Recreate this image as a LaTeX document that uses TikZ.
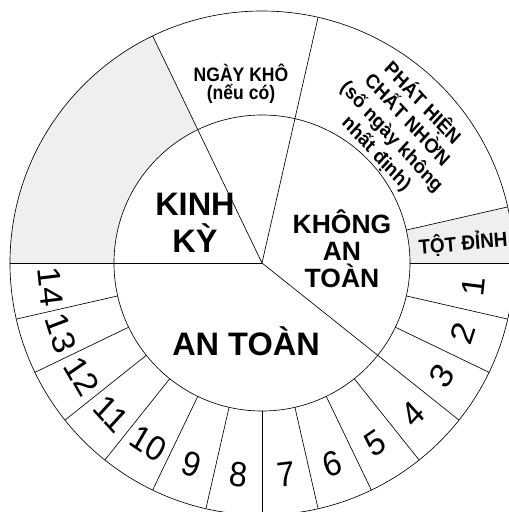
\documentclass[tikz,border=0pt]{standalone}
\usepackage{fontspec}
\setmainfont{Liberation Sans}
\definecolor{cellgrey}{HTML}{EFEFEF}
\tikzset{
  ring/.style={draw=black, line width=0.65pt},
  num/.style={font=\fontsize{35}{35}\selectfont, inner sep=0pt, xscale=0.92},
  big/.style={font=\fontsize{32.5}{37}\selectfont\bfseries, align=center, inner sep=0pt},
  mid/.style={font=\fontsize{26.5}{27}\selectfont\bfseries, align=center, inner sep=0pt},
  small/.style={font=\fontsize{19.5}{18.5}\selectfont\bfseries, align=center, inner sep=0pt, xscale=0.9},
  slant/.style={font=\fontsize{20}{23.5}\selectfont\bfseries, align=center, inner sep=0pt, xscale=0.92},
  tip/.style={font=\fontsize{20.5}{20}\selectfont\bfseries, inner sep=0pt, xscale=0.92},
}
\begin{document}
\begin{tikzpicture}[x=1pt,y=1pt]
\def\Ri{148}\def\Ro{252}\def\st{12.857142}
\useasboundingbox (-262,-249) rectangle (247,263);
\begin{scope}
\clip (-262,-249) rectangle (247,263);
% grey cells
\fill[cellgrey] (115.714:\Ri) arc[start angle=115.714, end angle=180, radius=\Ri]
   -- (180:\Ro) arc[start angle=180, end angle=115.714, radius=\Ro] -- cycle;
\fill[cellgrey] (0:\Ri) arc[start angle=0, end angle=12.857, radius=\Ri]
   -- (12.857:\Ro) arc[start angle=12.857, end angle=0, radius=\Ro] -- cycle;
% circles
\coordinate (c) at (0,0);
\draw[ring] (c) circle[radius=\Ri];
\draw[ring] (c) circle[radius=\Ro];
% lines from centre
\foreach \a in {180,115.714,77.143,-38.571} \draw[ring] (c) -- (\a:\Ro);
% day dividers
\foreach \i in {-1,0,1,2,4,5,6,7,8,9,10,11,12,13} \draw[ring] (-\i*\st:\Ri) -- (-\i*\st:\Ro);
% numbers
\foreach \k in {1,...,14} {
  \pgfmathsetmacro\a{-(\k-0.5)*\st}
  \node[num, rotate=\a+90] (d\k) at (\a:213) {\k};
}
\end{scope}
% labels
\node[big] (kinhky) at (-67,40) {KINH\\KỲ};
\node[big] (antoan) at (-16,-78) {AN TOÀN};
\node[mid] (khong) at (80,14) {KHÔNG\\AN\\TOÀN};
\node[small] (ngaykho) at (-21,179) {NGÀY KHÔ\\(nếu có)};
\node[slant, rotate=-45] (phathien) at (44.4:193) {PHÁT HIỆN\\CHẤT NHỜN\\(số ngày không\\nhất định)};
\node[tip, rotate=5] (totdinh) at (5.6:202) {TỘT ĐỈNH};
\end{tikzpicture}
\end{document}
